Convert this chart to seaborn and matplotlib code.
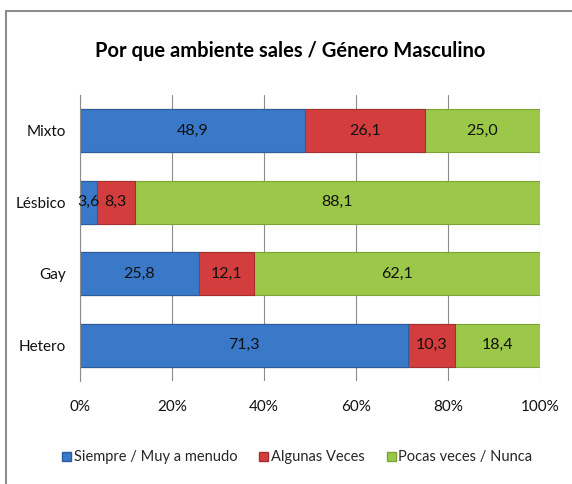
import matplotlib.pyplot as plt
import matplotlib.patches as mpatches
import numpy as np
import pandas as pd
import seaborn as sns

categories = ["Mixto", "Lésbico", "Gay", "Hetero"]
series_names = ["Siempre / Muy a menudo", "Algunas Veces", "Pocas veces / Nunca"]
siempre = [48.9, 3.6, 25.8, 71.3]
algunas = [26.1, 8.3, 12.1, 10.3]
pocas = [25.0, 88.1, 62.1, 18.4]
colors = ["#3A79C8", "#D33D3D", "#9CC84A"]
edges = ["#2A5E9E", "#A62E2E", "#7BA336"]

sns.set_theme(style="white")
plt.rcParams["font.family"] = ["Lato", "DejaVu Sans"]

fig = plt.figure(figsize=(5.72, 4.84), dpi=100)
ax = fig.add_axes([0.14, 0.213, 0.804, 0.591])

vals = np.array([siempre, algunas, pocas])
cum = vals.cumsum(axis=0)

# draw from the widest stack down so each segment stays visible
for i in range(2, -1, -1):
    df = pd.DataFrame({"cat": categories, "x": cum[i]})
    sns.barplot(data=df, x="x", y="cat", order=categories, orient="h",
                color=colors[i], width=0.6, saturation=1,
                edgecolor=edges[i], linewidth=0.8, ax=ax)

for i in range(3):
    for j in range(len(categories)):
        x = cum[i][j] - vals[i][j] / 2
        ax.text(x, j, f"{vals[i][j]:.1f}".replace(".", ","),
                ha="center", va="center", fontsize=11.5, color="#111111")

ax.set_xlim(0, 100)
ax.set_xticks(range(0, 101, 20))
ax.set_xticklabels([f"{t}%" for t in range(0, 101, 20)], fontsize=11)
ax.tick_params(axis="y", labelsize=11, pad=10)
ax.tick_params(axis="x", pad=14)
ax.set_xlabel("")
ax.set_ylabel("")
ax.xaxis.grid(True, color="#8c8c8c", linewidth=0.8)
ax.set_axisbelow(True)
for s in ["top", "right", "bottom"]:
    ax.spines[s].set_visible(False)
ax.spines["left"].set_color("#8c8c8c")
ax.spines["left"].set_linewidth(0.8)
ax.tick_params(length=0)
for lab in ax.get_xticklabels() + ax.get_yticklabels():
    lab.set_color("#111111")

fig.text(0.508, 0.895, "Por que ambiente sales / Género Masculino",
         ha="center", va="center", fontsize=14.5, fontweight="bold", color="black")

handles = [mpatches.Patch(facecolor=colors[i], edgecolor=edges[i], label=series_names[i])
           for i in range(3)]
fig.legend(handles=handles, loc="center", bbox_to_anchor=(0.52, 0.055), ncol=3,
           frameon=False, fontsize=10.5, handlelength=0.6, handleheight=0.6,
           handletextpad=0.2, columnspacing=1.5)

# outer chart frame
fig.patches.append(mpatches.Rectangle((6 / 572, -0.1), 1.2, 1 - 11 / 484 + 0.1,
                                      transform=fig.transFigure, fill=False,
                                      edgecolor="#8c8c8c", linewidth=1.5))

fig.savefig("out.png", dpi=100)
